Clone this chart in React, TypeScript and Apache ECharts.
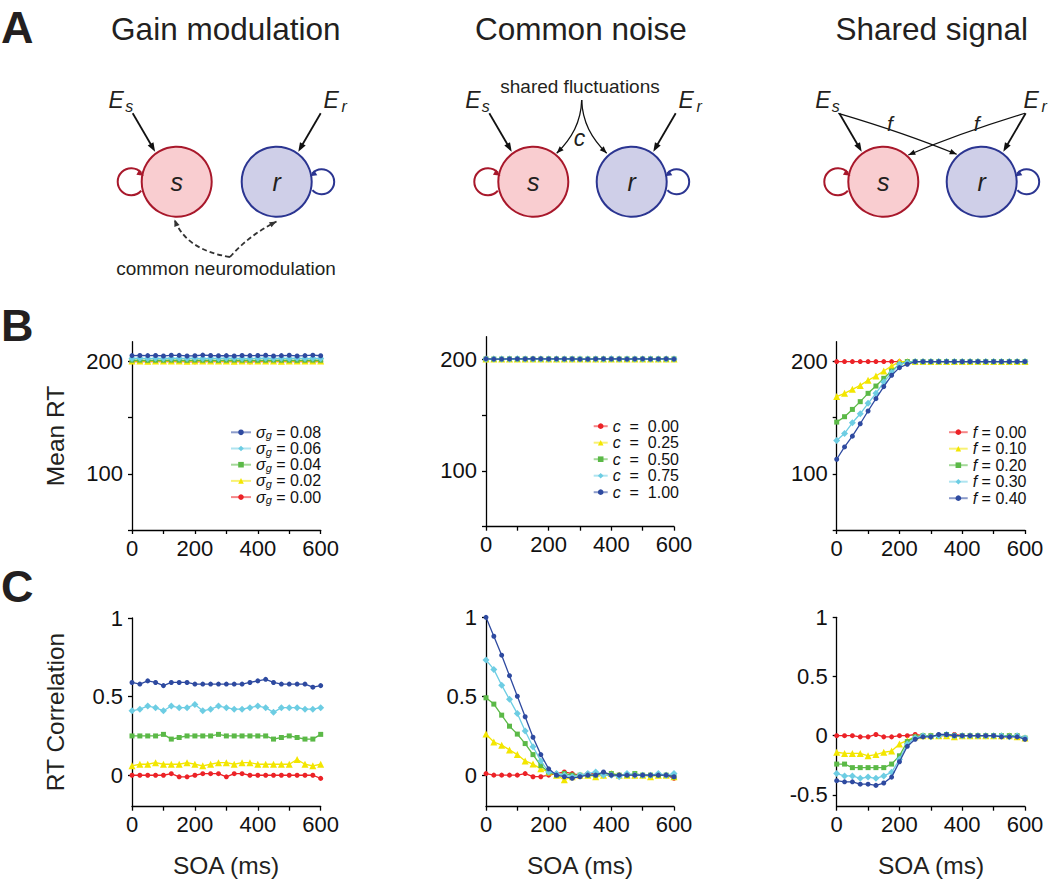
import React, { useEffect, useRef } from 'react';
import * as echarts from 'echarts';

// ---------------- DATA ----------------
const SOA = [0, 25, 50, 75, 100, 125, 150, 175, 200, 225, 250, 275, 300, 325, 350, 375, 400, 425, 450, 475, 500, 525, 550, 575, 600];

// B: Mean RT — gain modulation
const gainRT_000 = [200, 200, 200, 200, 200, 200, 200, 200, 199.8, 200, 200, 200, 200, 200, 200, 199.8, 200, 200, 200, 200, 200, 200, 200, 200, 200];
const gainRT_002 = [200.5, 200.6, 200.4, 200.5, 200.5, 200.6, 200.5, 200.4, 200.5, 200.5, 200.6, 200.5, 200.5, 200.4, 200.5, 200.5, 200.6, 200.5, 200.5, 200.4, 200.5, 200.5, 200.6, 200.5, 200.5];
const gainRT_004 = [201.2, 201.3, 201.1, 201.2, 201.2, 201.3, 201.2, 201.1, 201.3, 201.2, 201.2, 201.1, 201.2, 201.3, 201.2, 201.2, 201.1, 201.2, 201.3, 201.2, 201.2, 201.1, 201.2, 201.3, 201.2];
const gainRT_006 = [202.8, 203, 202.7, 202.9, 202.8, 203, 202.9, 202.8, 203, 202.7, 202.9, 202.8, 203, 202.9, 202.8, 202.7, 202.9, 203, 202.8, 202.9, 202.8, 203, 202.7, 202.9, 202.8];
const gainRT_008 = [205.3, 205.4, 205.3, 205.4, 205, 205.6, 205.5, 205, 205.2, 205.8, 205.4, 205.2, 205.3, 205, 205.4, 205.3, 205.4, 205.6, 205, 205.3, 205.6, 205, 205.3, 205.7, 205.2];

// B: Mean RT — common noise
const noiseRT_000 = [200, 200, 200, 200, 200, 200, 200, 200, 200, 200, 200, 200, 200, 200, 200, 200, 200, 200, 200, 200, 200, 200, 200, 200, 200];
const noiseRT_025 = [200, 200, 200.1, 200, 200, 200, 200.1, 200, 200, 200, 200.1, 200, 200, 200, 200, 200, 200.1, 200, 200, 200, 200, 200, 200.1, 200, 200];
const noiseRT_050 = [200.1, 200, 200, 200.1, 200, 200.1, 200, 200, 200.1, 200, 200, 200.1, 200, 200, 200.1, 200, 200, 200, 200.1, 200, 200, 200.1, 200, 200, 200.1];
const noiseRT_075 = [200, 200.1, 200, 200, 200.2, 200, 200, 200.1, 200, 200, 200.1, 200, 200, 200.1, 200, 200, 200.2, 200, 200, 200.1, 200, 200, 200, 200.1, 200];
const noiseRT_100 = [200.2, 200, 200, 200.1, 200.2, 200.1, 200.3, 200.2, 200.1, 200.2, 200.1, 200.1, 199.9, 200, 200.1, 200.2, 200.1, 200.1, 200, 200.1, 200.2, 200, 200.1, 200.2, 200];

// B: Mean RT — shared signal
const sharedRT_000 = [200, 200, 200, 200, 200, 200, 200, 200, 200, 200, 200, 200, 200, 200, 200, 200, 200, 200, 200, 200, 200, 200, 200, 200, 200];
const sharedRT_010 = [168.8, 171.7, 175.3, 178.8, 183.3, 187.2, 191.6, 196, 200, 200, 200, 200, 200, 200, 200, 200, 200, 200, 200, 200, 200, 200, 200, 200, 200];
const sharedRT_020 = [146.1, 150.9, 157.4, 164.3, 171.7, 178.2, 185.1, 191.6, 197.6, 200, 200, 200, 200, 200, 200, 200, 200, 200, 200, 200, 200, 200, 200, 200, 200];
const sharedRT_030 = [129.7, 136, 145.5, 153.5, 162.8, 171.7, 181.8, 190.2, 197.6, 199, 200, 200, 200, 200, 200, 200, 200, 200, 200, 200, 200, 200, 200, 200, 200];
const sharedRT_040 = [113, 124, 133.6, 144.6, 156, 167, 177.7, 187.8, 194.6, 197.6, 200, 200, 200, 200, 200, 200, 200, 200, 200, 200, 200, 200, 200, 200, 200];

// C: RT correlation — gain modulation
const gainCorr_000 = [0.0, 0.0, 0.0, 0.0, 0.0, 0.01, -0.01, -0.01, 0.0, 0.01, 0.01, 0.01, -0.01, 0.01, 0.01, 0.0, 0.0, 0.0, 0.0, 0.0, 0.0, 0.0, 0.0, 0.0, -0.02];
const gainCorr_002 = [0.06, 0.07, 0.07, 0.08, 0.07, 0.07, 0.07, 0.08, 0.07, 0.06, 0.07, 0.08, 0.08, 0.07, 0.08, 0.08, 0.07, 0.07, 0.07, 0.07, 0.07, 0.1, 0.07, 0.06, 0.07];
const gainCorr_004 = [0.25, 0.25, 0.25, 0.25, 0.26, 0.23, 0.24, 0.25, 0.25, 0.25, 0.25, 0.26, 0.25, 0.25, 0.25, 0.25, 0.25, 0.25, 0.23, 0.24, 0.25, 0.24, 0.23, 0.23, 0.26];
const gainCorr_006 = [0.41, 0.42, 0.44, 0.43, 0.41, 0.44, 0.43, 0.43, 0.45, 0.41, 0.42, 0.44, 0.43, 0.42, 0.42, 0.43, 0.44, 0.43, 0.4, 0.43, 0.43, 0.43, 0.42, 0.42, 0.43];
const gainCorr_008 = [0.59, 0.58, 0.6, 0.59, 0.57, 0.59, 0.59, 0.59, 0.58, 0.58, 0.58, 0.58, 0.58, 0.58, 0.58, 0.59, 0.6, 0.61, 0.59, 0.58, 0.58, 0.58, 0.58, 0.56, 0.57];

// C: RT correlation — common noise
const noiseCorr_000 = [0.01, 0.0, 0.0, 0.0, 0.0, 0.01, -0.01, -0.01, 0.0, 0.01, 0.02, 0.01, 0.0, 0.01, 0.01, 0.0, 0.0, 0.0, 0.0, 0.0, 0.0, 0.0, 0.0, 0.0, -0.02];
const noiseCorr_025 = [0.26, 0.21, 0.19, 0.16, 0.13, 0.09, 0.07, 0.04, 0.02, 0.0, -0.03, -0.01, 0.0, 0.0, -0.01, 0.0, 0.01, 0.0, 0.0, 0.0, 0.0, -0.01, 0.0, 0.0, -0.01];
const noiseCorr_050 = [0.49, 0.45, 0.38, 0.31, 0.26, 0.2, 0.13, 0.06, 0.02, 0.0, 0.01, 0.0, 0.0, 0.0, 0.0, 0.01, 0.01, 0.0, 0.0, 0.01, 0.0, 0.0, 0.0, 0.0, -0.01];
const noiseCorr_075 = [0.73, 0.67, 0.57, 0.48, 0.39, 0.28, 0.18, 0.09, 0.02, 0.01, 0.0, -0.01, 0.0, 0.01, 0.02, 0.0, 0.0, -0.01, 0.01, 0.0, 0.0, 0.0, 0.01, 0.0, 0.01];
const noiseCorr_100 = [1.0, 0.88, 0.76, 0.63, 0.5, 0.37, 0.24, 0.13, 0.04, 0.0, -0.01, -0.02, -0.01, 0.0, 0.0, 0.02, 0.0, 0.0, 0.0, 0.0, 0.0, 0.0, 0.0, 0.0, -0.01];

// C: RT correlation — shared signal
const sharedCorr_000 = [0.0, 0.0, 0.0, -0.01, -0.01, 0.01, -0.01, -0.01, 0.0, 0.0, 0.01, 0.0, 0.0, 0.0, 0.0, 0.01, 0.0, 0.0, 0.0, 0.0, 0.0, 0.0, 0.0, 0.0, -0.02];
const sharedCorr_010 = [-0.14, -0.15, -0.15, -0.15, -0.17, -0.16, -0.14, -0.13, -0.07, -0.04, -0.01, 0.0, 0.0, 0.0, 0.0, -0.01, 0.0, 0.0, 0.0, 0.0, 0.0, 0.0, 0.0, -0.01, -0.02];
const sharedCorr_020 = [-0.24, -0.24, -0.27, -0.27, -0.27, -0.27, -0.27, -0.24, -0.17, -0.05, -0.01, 0.0, 0.0, 0.0, 0.01, 0.0, 0.0, 0.0, 0.0, 0.0, 0.0, 0.0, 0.0, 0.0, -0.02];
const sharedCorr_030 = [-0.32, -0.34, -0.34, -0.36, -0.35, -0.36, -0.34, -0.31, -0.2, -0.07, -0.02, 0.0, -0.01, 0.0, 0.01, 0.0, 0.0, 0.0, 0.0, 0.0, 0.0, 0.0, -0.01, 0.0, -0.02];
const sharedCorr_040 = [-0.38, -0.39, -0.39, -0.41, -0.41, -0.42, -0.4, -0.35, -0.22, -0.09, -0.03, -0.01, -0.01, 0.01, 0.01, 0.0, 0.0, 0.0, 0.0, 0.0, 0.0, -0.01, -0.01, -0.01, -0.03];

// labels
const gainLegend = ['0.08', '0.06', '0.04', '0.02', '0.00'];
const noiseLegend = ['0.00', '0.25', '0.50', '0.75', '1.00'];
const sharedLegend = ['0.00', '0.10', '0.20', '0.30', '0.40'];
const columnTitles = ['Gain modulation', 'Common noise', 'Shared signal'];
const xTickLabels = [0, 200, 400, 600];
const rtTickLabels = [100, 200];
const corrTickLabels = [0, 0.5, 1];
const corrTickLabelsShared = [-0.5, 0, 0.5, 1];

// ---------------- STYLE ----------------
const FONT = "'Liberation Sans', Arial, Helvetica, sans-serif";
const INK = '#231f20';
const RED = '#ec2227';
const YELLOW = '#f3e600';
const GREEN = '#5bb947';
const CYAN = '#6dcde3';
const BLUE = '#2e4aa0';
const COLORS = [RED, YELLOW, GREEN, CYAN, BLUE];
const SYMBOLS = ['circle', 'triangle', 'rect', 'diamond', 'circle'];

const GRIDS = [
  { left: 132, top: 341.7, width: 188.7, height: 188.3 },
  { left: 486, top: 336.7, width: 188, height: 190 },
  { left: 836.7, top: 341.7, width: 188.3, height: 188.3 },
  { left: 132, top: 618, width: 188.7, height: 188.7 },
  { left: 486, top: 617.3, width: 188, height: 189.4 },
  { left: 836.7, top: 617.3, width: 188.3, height: 189.4 },
];
const YR = [
  [50, 217.7],
  [50, 220],
  [50, 217.7],
  [-0.2, 1],
  [-0.2, 1],
  [-0.6, 1],
];

function buildOption() {
  const grid = GRIDS.map((g) => ({ ...g, containLabel: false, outerBoundsMode: 'none' }));
  const axisLineStyle = { color: '#000', width: 1.3 };
  const xAxis = GRIDS.map((_, i) => ({
    type: 'value',
    gridIndex: i,
    min: 0,
    max: 600,
    interval: 100,
    axisLine: { show: true, onZero: false, lineStyle: axisLineStyle },
    axisTick: { show: true, length: 4, lineStyle: axisLineStyle },
    axisLabel: {
      show: true,
      customValues: xTickLabels,
      formatter: (v: number) => (xTickLabels.indexOf(v) >= 0 ? String(v) : ''),
      fontSize: 22,
      fontFamily: FONT,
      color: '#111',
      margin: 7,
    },
    splitLine: { show: false },
  }));
  const yAxis = GRIDS.map((_, i) => {
    const isRT = i < 3;
    const labels = isRT ? rtTickLabels : i === 5 ? corrTickLabelsShared : corrTickLabels;
    const ticks = isRT ? [50, 100, 150, 200] : labels;
    return {
      type: 'value',
      gridIndex: i,
      min: YR[i][0],
      max: YR[i][1],
      axisLine: { show: true, onZero: false, lineStyle: axisLineStyle },
      axisTick: { show: true, length: 4, customValues: ticks, lineStyle: axisLineStyle },
      axisLabel: {
        show: true,
        customValues: labels,
        formatter: (v: number) => String(v),
        fontSize: 22,
        fontFamily: FONT,
        color: '#111',
        margin: 9,
      },
      splitLine: { show: false },
    };
  });

  const groups: { names: string[]; data: number[][] }[] = [
    { names: ['σg = 0.00', 'σg = 0.02', 'σg = 0.04', 'σg = 0.06', 'σg = 0.08'], data: [gainRT_000, gainRT_002, gainRT_004, gainRT_006, gainRT_008] },
    { names: ['c = 0.00', 'c = 0.25', 'c = 0.50', 'c = 0.75', 'c = 1.00'], data: [noiseRT_000, noiseRT_025, noiseRT_050, noiseRT_075, noiseRT_100] },
    { names: ['f = 0.00', 'f = 0.10', 'f = 0.20', 'f = 0.30', 'f = 0.40'], data: [sharedRT_000, sharedRT_010, sharedRT_020, sharedRT_030, sharedRT_040] },
    { names: ['gc0', 'gc1', 'gc2', 'gc3', 'gc4'], data: [gainCorr_000, gainCorr_002, gainCorr_004, gainCorr_006, gainCorr_008] },
    { names: ['nc0', 'nc1', 'nc2', 'nc3', 'nc4'], data: [noiseCorr_000, noiseCorr_025, noiseCorr_050, noiseCorr_075, noiseCorr_100] },
    { names: ['sc0', 'sc1', 'sc2', 'sc3', 'sc4'], data: [sharedCorr_000, sharedCorr_010, sharedCorr_020, sharedCorr_030, sharedCorr_040] },
  ];

  const series: any[] = [];
  groups.forEach((g, gi) => {
    g.data.forEach((vals, k) => {
      series.push({
        type: 'line',
        name: g.names[k],
        xAxisIndex: gi,
        yAxisIndex: gi,
        data: SOA.map((x, j) => [x, vals[j]]),
        symbol: SYMBOLS[k],
        symbolSize: SYMBOLS[k] === 'triangle' ? 7 : SYMBOLS[k] === 'diamond' ? 7 : 5,
        showSymbol: true,
        color: COLORS[k],
        lineStyle: { color: COLORS[k], width: 1.3 },
        itemStyle: { color: COLORS[k] },
        clip: false,
        silent: true,
        emphasis: { disabled: true },
        z: 2 + k,
      });
    });
  });

  const richBase = {
    i: { fontStyle: 'italic', fontSize: 16, lineHeight: 17, fontFamily: FONT, color: '#111' },
    s: { fontStyle: 'italic', fontSize: 11, lineHeight: 6, verticalAlign: 'bottom', fontFamily: FONT, color: '#111' },
    t: { fontSize: 16, lineHeight: 17, fontFamily: FONT, color: '#111' },
  };
  const legendCommon = {
    orient: 'vertical',
    padding: 0,
    itemHeight: 7,
    selectedMode: false,
    lineStyle: { opacity: 0.55 },
    textStyle: { fontFamily: FONT, fontSize: 16, color: '#111', rich: richBase },
  };
  const legend = [
    {
      ...legendCommon,
      left: 230,
      top: 424.3,
      itemWidth: 20,
      itemGap: -0.3,
      data: gainLegend.map((v) => 'σg = ' + v),
      formatter: (n: string) => '{i|σ}{s|g}{t| = ' + n.slice(5) + '}',
    },
    {
      ...legendCommon,
      left: 592.7,
      top: 418.2,
      itemWidth: 14,
      itemGap: 0.5,
      data: noiseLegend.map((v) => 'c = ' + v),
      formatter: (n: string) => '{i|c}{t|  =  ' + n.slice(4) + '}',
    },
    {
      ...legendCommon,
      left: 948,
      top: 424.2,
      itemWidth: 18.7,
      itemGap: 0.5,
      data: sharedLegend.map((v) => 'f = ' + v),
      formatter: (n: string) => '{i|f}{t| = ' + n.slice(4) + '}',
    },
  ];

  // ---------------- GRAPHICS (diagrams and labels) ----------------
  const g: any[] = [];
  const text = (x: number, y: number, t: string, size: number, opts: any = {}) =>
    g.push({
      type: 'text',
      x,
      y,
      rotation: opts.rotation || 0,
      silent: true,
      z: 10,
      style: {
        text: t,
        fontSize: size,
        fontFamily: FONT,
        fontStyle: opts.italic ? 'italic' : 'normal',
        fontWeight: opts.bold ? 'bold' : 'normal',
        fill: opts.color || INK,
        align: opts.align || 'center',
        textAlign: opts.align || 'center',
        verticalAlign: 'middle',
        textVerticalAlign: 'middle',
      },
    });
  const head = (tx: number, ty: number, ang: number, color: string, L = 8, W = 3.3) => {
    const dx = Math.cos(ang);
    const dy = Math.sin(ang);
    g.push({
      type: 'polygon',
      silent: true,
      z: 6,
      shape: {
        points: [
          [tx, ty],
          [tx - L * dx - W * dy, ty - L * dy + W * dx],
          [tx - L * dx + W * dy, ty - L * dy - W * dx],
        ],
      },
      style: { fill: color },
    });
  };
  const arrow = (x1: number, y1: number, x2: number, y2: number, color = '#111', w = 1.8) => {
    const ang = Math.atan2(y2 - y1, x2 - x1);
    g.push({
      type: 'line',
      silent: true,
      z: 5,
      shape: { x1, y1, x2: x2 - 6 * Math.cos(ang), y2: y2 - 6 * Math.sin(ang) },
      style: { stroke: color, lineWidth: w },
    });
    head(x2, y2, ang, color, 9, 3.3);
  };
  const curve = (p: number[], color = '#111', w = 1.3, dash?: number[], withHead = true) => {
    const cubic = p.length === 8;
    const shape: any = cubic
      ? { x1: p[0], y1: p[1], cpx1: p[2], cpy1: p[3], cpx2: p[4], cpy2: p[5], x2: p[6], y2: p[7] }
      : { x1: p[0], y1: p[1], cpx1: p[2], cpy1: p[3], x2: p[4], y2: p[5] };
    g.push({
      type: 'bezierCurve',
      silent: true,
      z: 5,
      shape,
      style: { stroke: color, lineWidth: w, fill: 'none', lineDash: dash || null },
    });
    if (withHead) {
      const ex = cubic ? p[6] : p[4];
      const ey = cubic ? p[7] : p[5];
      const cx = cubic ? p[4] : p[2];
      const cy = cubic ? p[5] : p[3];
      head(ex, ey, Math.atan2(ey - cy, ex - cx), color, 7, 2.8);
    }
  };

  const SFILL = '#f9cdd0';
  const SSTROKE = '#a8182b';
  const RFILL = '#cfcfe8';
  const RSTROKE = '#2b3591';
  const CY = 181.7;
  const R = 35;

  const diagram = (sx: number, rx: number, erShift = 0) => {
    g.push({ type: 'circle', silent: true, z: 4, shape: { cx: sx, cy: CY, r: R }, style: { fill: SFILL, stroke: SSTROKE, lineWidth: 2 } });
    g.push({ type: 'circle', silent: true, z: 4, shape: { cx: rx, cy: CY, r: R }, style: { fill: RFILL, stroke: RSTROKE, lineWidth: 2 } });
    text(sx, CY, 's', 25, { italic: true });
    text(rx, CY, 'r', 25, { italic: true });
    // self loops
    const d2r = Math.PI / 180;
    const lsx = sx - 45.5;
    const lr = 13.5;
    g.push({ type: 'arc', silent: true, z: 3, shape: { cx: lsx, cy: CY, r: lr, startAngle: 42 * d2r, endAngle: 318 * d2r, clockwise: true }, style: { stroke: SSTROKE, lineWidth: 2, fill: 'none' } });
    {
      const th = 318 * d2r;
      const ex = lsx + lr * Math.cos(th);
      const ey = CY + lr * Math.sin(th);
      const dx = -Math.sin(th);
      const dy = Math.cos(th);
      head(ex + 4 * dx, ey + 4 * dy, Math.atan2(dy, dx) - 0.3, SSTROKE, 7, 3);
    }
    const lrx = rx + 45;
    const rr = 12.5;
    g.push({ type: 'arc', silent: true, z: 3, shape: { cx: lrx, cy: CY, r: rr, startAngle: 138 * d2r, endAngle: -138 * d2r, clockwise: false }, style: { stroke: RSTROKE, lineWidth: 2, fill: 'none' } });
    {
      const th = -138 * d2r;
      const ex = lrx + rr * Math.cos(th);
      const ey = CY + rr * Math.sin(th);
      const dx = Math.sin(th);
      const dy = -Math.cos(th);
      head(ex + 4 * dx, ey + 4 * dy, Math.atan2(dy, dx) + 0.3, RSTROKE, 7, 3);
    }
    // external inputs
    text(sx - 60.5, CY - 81.7, 'E', 23, { italic: true });
    text(sx - 47.5, CY - 75, 's', 16, { italic: true });
    text(rx + 54.5 - erShift, CY - 81.7, 'E', 23, { italic: true });
    text(rx + 67.5 - erShift, CY - 75, 'r', 16, { italic: true });
    arrow(sx - 44, CY - 68.5, sx - 21.6, CY - 30);
    arrow(rx + 44, CY - 68.5, rx + 21.6, CY - 30);
  };

  // titles and panel letters
  text(225.8, 28.5, columnTitles[0], 31.5);
  text(580.8, 28.5, columnTitles[1], 31.5);
  text(931.7, 28.5, columnTitles[2], 31.5);
  text(1, 27, 'A', 45, { bold: true, align: 'left' });
  text(1, 325.5, 'B', 45, { bold: true, align: 'left' });
  text(1, 586, 'C', 45, { bold: true, align: 'left' });

  // Gain modulation
  diagram(176.7, 276.7);
  curve([230, 257, 186, 250, 174.5, 219.5], '#333', 1.8, [5, 3]);
  curve([230, 257, 248, 236, 276.5, 221.5], '#333', 1.8, [5, 3]);
  text(226, 268.5, 'common neuromodulation', 19);

  // Common noise
  diagram(533.3, 631.7);
  text(580, 86, 'shared fluctuations', 19);
  curve([581.7, 100, 581, 122, 572, 138, 556.7, 153.3], '#111', 1.3);
  curve([581.7, 100, 582.4, 122, 591.4, 138, 606.7, 153.3], '#111', 1.3);
  text(579.5, 138, 'c', 23, { italic: true });

  // Shared signal
  diagram(883.3, 981.7, 5);
  curve([838.3, 113.3, 905, 133, 956.7, 154.3], '#111', 1.2);
  curve([1025, 113.3, 960, 133, 908.3, 155], '#111', 1.2);
  text(890, 123.5, 'f', 21, { italic: true });
  text(976.7, 123.5, 'f', 21, { italic: true });

  // axis names
  text(55, 436, 'Mean RT', 24.5, { rotation: Math.PI / 2 });
  text(55, 712, 'RT Correlation', 24.5, { rotation: Math.PI / 2 });
  text(226, 865, 'SOA (ms)', 24.5);
  text(580, 865, 'SOA (ms)', 24.5);
  text(931, 865, 'SOA (ms)', 24.5);

  return {
    animation: false,
    backgroundColor: '#ffffff',
    textStyle: { fontFamily: FONT },
    grid,
    xAxis,
    yAxis,
    legend,
    series,
    graphic: { elements: g },
  };
}

export default function App() {
  const ref = useRef<HTMLDivElement>(null);
  useEffect(() => {
    if (!ref.current) return;
    const chart = echarts.init(ref.current, null, { renderer: 'svg' });
    chart.setOption(buildOption() as any);
    return () => chart.dispose();
  }, []);
  return (
    <div
      ref={ref}
      style={{ position: 'fixed', left: 0, top: 0, width: 1050, height: 879, background: '#fff' }}
    />
  );
}
